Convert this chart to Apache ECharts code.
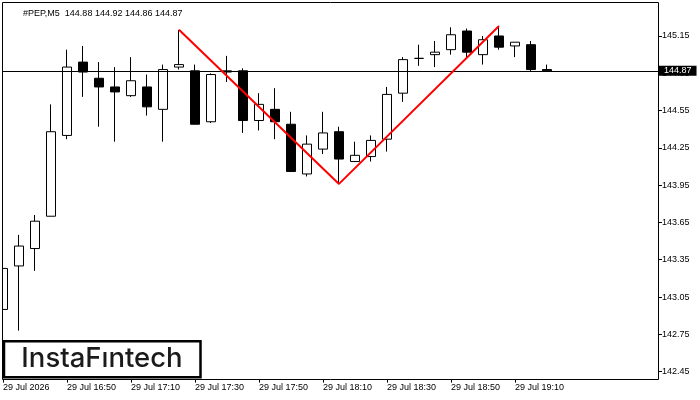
<!DOCTYPE html>
<html>
<head>
<meta charset="utf-8">
<script src="https://cdn.jsdelivr.net/npm/echarts@6/dist/echarts.min.js"></script>
<style>
html, body { margin: 0; padding: 0; background: #fff; }
#chart { width: 700px; height: 400px; }
</style>
</head>
<body>
<div id="chart"></div>
<script>
const symbolName = "#PEP,M5";
const dayLabel = "29 Jul";
const firstLabel = "29 Jul 2026";
const times = [
	"16:30", "16:35", "16:40", "16:45", "16:50", "16:55", "17:00", "17:05", "17:10", "17:15",
	"17:20", "17:25", "17:30", "17:35", "17:40", "17:45", "17:50", "17:55", "18:00", "18:05",
	"18:10", "18:15", "18:20", "18:25", "18:30", "18:35", "18:40", "18:45", "18:50", "18:55",
	"19:00", "19:05", "19:10", "19:15", "19:20", "19:25", "19:30", "19:35", "19:40", "19:45",
	"19:50", "19:55"
];
const opens = [
	142.95, 143.30, 143.44, 143.70, 144.35, 144.94, 144.81, 144.74, 144.67, 144.74,
	144.56, 144.90, 144.87, 144.46, 144.86, 144.87, 144.47, 144.56, 144.44, 144.04,
	144.24, 144.38, 144.14, 144.18, 144.32, 144.69, 144.97, 145.00, 145.04, 145.19,
	145.00, 145.15, 145.07, 145.08, 144.88
];
const highs = [
	143.58, 143.55, 143.71, 144.60, 145.04, 145.07, 144.94, 144.90, 144.98, 144.84,
	144.92, 145.20, 144.92, 144.85, 144.99, 144.89, 144.69, 144.73, 144.54, 144.35,
	144.54, 144.42, 144.30, 144.35, 144.74, 144.98, 145.08, 145.11, 145.22, 145.21,
	145.15, 145.23, 145.10, 145.11, 144.92
];
const lows = [
	142.60, 142.78, 143.26, 143.70, 144.32, 144.66, 144.42, 144.30, 144.66, 144.51,
	144.30, 144.88, 144.44, 144.45, 144.78, 144.37, 144.39, 144.32, 144.06, 144.02,
	144.20, 143.96, 144.14, 144.14, 144.22, 144.62, 144.91, 144.90, 145.00, 144.98,
	144.92, 145.04, 144.98, 144.86, 144.86
];
const closes = [
	143.28, 143.46, 143.66, 144.38, 144.90, 144.86, 144.74, 144.70, 144.79, 144.58,
	144.88, 144.92, 144.44, 144.84, 144.87, 144.47, 144.60, 144.46, 144.06, 144.28,
	144.37, 144.16, 144.19, 144.31, 144.68, 144.96, 144.97, 145.02, 145.16, 145.02,
	145.12, 145.06, 145.10, 144.88, 144.87
];
// double top pattern: high, trough, high
const patternIdx = [11, 21, 31];
const patternVal = [145.20, 143.96, 145.23];
const lastPrice = 144.87;
const yMin = 142.45;
const yMax = 145.4195;
const yStep = 0.30;

const FONT = "Liberation Sans";
const last = opens.length - 1;
const header = symbolName + "  " +
	[opens[last], highs[last], lows[last], closes[last]].map(v => v.toFixed(2)).join(" ");

const candles = opens.map((o, i) => [o, closes[i], lows[i], highs[i]]);
const pattern = patternIdx.map((x, k) => [x, patternVal[k]]);
const showTime = (i) => i % 4 === 0 && i <= last;

const chart = echarts.init(document.getElementById("chart"));
chart.setOption({
	animation: false,
	backgroundColor: "#fff",
	title: {
		text: header,
		left: 18,
		top: 4,
		textStyle: { fontSize: 9, fontWeight: "normal", color: "#000", fontFamily: FONT }
	},
	grid: { left: 3, right: 41, top: 2.5, bottom: 28.4 },
	xAxis: {
		type: "category",
		data: times,
		boundaryGap: false,
		offset: 8,
		axisLine: { show: false },
		axisTick: { show: true, length: 3, interval: showTime, lineStyle: { color: "#000" } },
		axisLabel: {
			interval: showTime,
			align: "left",
			margin: 3,
			color: "#000",
			fontSize: 9,
			fontFamily: FONT,
			formatter: (v, i) => (i === 0 ? firstLabel : dayLabel + " " + v)
		},
		splitLine: { show: false }
	},
	yAxis: {
		type: "value",
		position: "right",
		min: yMin,
		max: yMax,
		interval: yStep,
		axisLine: { show: false },
		axisTick: { show: true, length: 3, lineStyle: { color: "#000" } },
		axisLabel: {
			margin: 3,
			showMaxLabel: false,
			color: "#000",
			fontSize: 9,
			fontFamily: FONT,
			formatter: v => v.toFixed(2)
		},
		splitLine: { show: false }
	},
	series: [
		{
			type: "candlestick",
			data: candles,
			barWidth: 10,
			itemStyle: {
				color: "#fff",
				color0: "#000",
				borderColor: "#000",
				borderColor0: "#000",
				borderColorDoji: "#000",
				borderWidth: 1
			},
			markLine: {
				silent: true,
				symbol: ["none", "none"],
				lineStyle: { color: "#000", width: 1, type: "solid" },
				label: {
					position: "end",
					distance: 0,
					formatter: lastPrice.toFixed(2),
					color: "#fff",
					backgroundColor: "#000",
					padding: [1, 5, 0, 5],
					fontSize: 9,
					fontFamily: FONT
				},
				data: [{ yAxis: lastPrice }]
			}
		},
		{
			type: "line",
			data: pattern,
			symbol: "none",
			silent: true,
			z: 5,
			lineStyle: { color: "#ff0000", width: 2 }
		}
	],
	graphic: [
		{
			// mask the part of the first candle outside the frame
			type: "rect",
			silent: true,
			z: 49,
			shape: { x: 0, y: 0, width: 2, height: 400 },
			style: { fill: "#fff" }
		},
		{
			type: "rect",
			silent: true,
			z: 50,
			shape: { x: 2.5, y: 2.5, width: 656, height: 377 },
			style: { fill: "none", stroke: "#000", lineWidth: 1 }
		},
		{
			type: "rect",
			z: 60,
			shape: { x: 4, y: 341.3, width: 196.5, height: 36 },
			style: { fill: "#fff", stroke: "#000", lineWidth: 2.5 }
		},
		{
			type: "text",
			z: 61,
			x: 102,
			y: 358.5,
			style: {
				text: "InstaF\u0131ntech",
				font: "500 27.5px Inter",
				fill: "#1b1b1b",
				align: "center",
				verticalAlign: "middle"
			}
		}
	]
});
</script>
</body>
</html>
